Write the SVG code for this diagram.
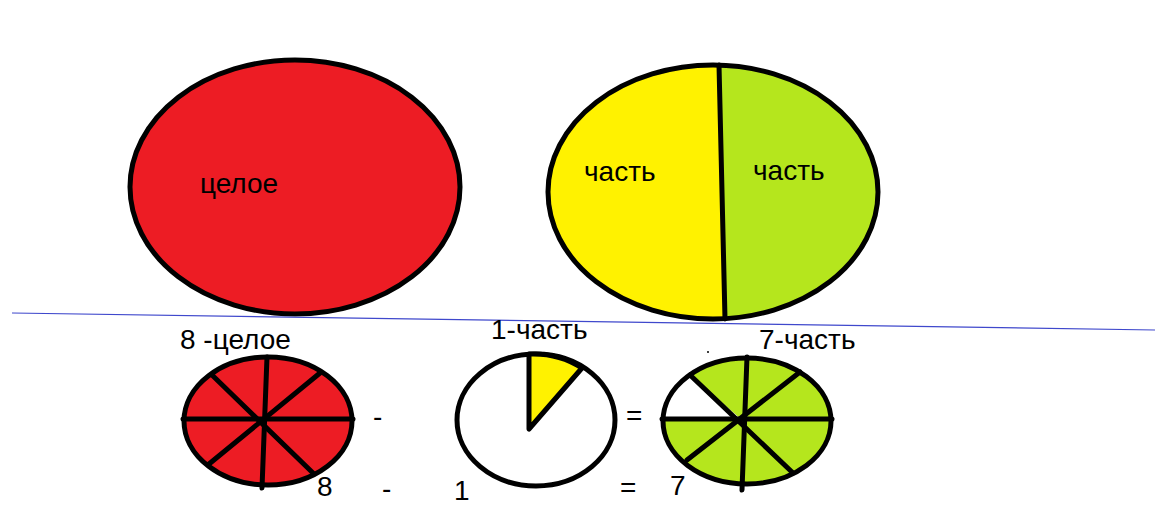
<svg xmlns="http://www.w3.org/2000/svg" width="1173" height="506" viewBox="0 0 1173 506">
<style>
.o{stroke:#000;stroke-width:5;stroke-linecap:round}
.s{stroke:#000;stroke-width:5;stroke-linecap:round;fill:none}
.t{font-family:"Liberation Sans",Arial,sans-serif;font-size:28px;fill:#000}
</style>
<defs>
<clipPath id="rightHalf"><polygon points="719,40 1000,40 1000,340 725,340 725,319"/></clipPath>
<clipPath id="ulSector"><polygon points="742,420 600,419 600,300 640,300 690,375"/></clipPath>
</defs>
<rect width="1173" height="506" fill="#fff"/>
<g id="whole">
<ellipse class="o" cx="295" cy="187" rx="165" ry="127" fill="#ED1C24"/>
<text class="t" x="200" y="193">целое</text>
</g>
<g id="parts">
<ellipse cx="713" cy="192" rx="165" ry="127" fill="#FFF200"/>
<ellipse cx="713" cy="192" rx="165" ry="127" fill="#B5E61D" clip-path="url(#rightHalf)"/>
<ellipse class="s" cx="713" cy="192" rx="165" ry="127"/>
<line class="s" x1="719" y1="65" x2="725" y2="319"/>
<text class="t" x="584" y="181">часть</text>
<text class="t" x="753" y="180">часть</text>
</g>
<line x1="12" y1="313" x2="1155" y2="330" stroke="#3F48CC" stroke-width="1.2"/>
<g id="eight">
<ellipse class="o" cx="268" cy="421" rx="84" ry="64" fill="#ED1C24"/>
<g class="s">
<line x1="267" y1="357" x2="262" y2="488"/>
<line x1="183" y1="419" x2="353" y2="419"/>
<line x1="212" y1="375" x2="313" y2="473"/>
<line x1="320" y1="373" x2="209" y2="464"/>
</g>
<text class="t" x="180" y="349">8 -целое</text>
</g>
<g id="one">
<ellipse class="s" cx="536" cy="420" rx="79" ry="66" fill="#fff"/>
<path class="o" d="M529,429 L529,354 A79,66 0 0,1 582,368 Z" fill="#FFF200" stroke-linejoin="round"/>
<text class="t" x="491" y="339">1-часть</text>
</g>
<g id="seven">
<ellipse cx="747" cy="421" rx="84" ry="63" fill="#B5E61D"/>
<ellipse cx="747" cy="421" rx="84" ry="63" fill="#fff" clip-path="url(#ulSector)"/>
<ellipse class="s" cx="747" cy="421" rx="84" ry="63"/>
<g class="s">
<line x1="747" y1="357" x2="742" y2="490"/>
<line x1="662" y1="419" x2="832" y2="419"/>
<line x1="690" y1="375" x2="793" y2="473"/>
<line x1="800" y1="372" x2="687" y2="460"/>
</g>
<circle cx="708" cy="352" r="1" fill="#000"/>
<text class="t" x="759" y="349">7-часть</text>
</g>
<g id="equation" class="t">
<text x="373" y="426">-</text>
<text x="626" y="425">=</text>
<text x="317" y="496">8</text>
<text x="382" y="498">-</text>
<text x="454" y="500">1</text>
<text x="620" y="497">=</text>
<text x="670" y="495">7</text>
</g>
</svg>
